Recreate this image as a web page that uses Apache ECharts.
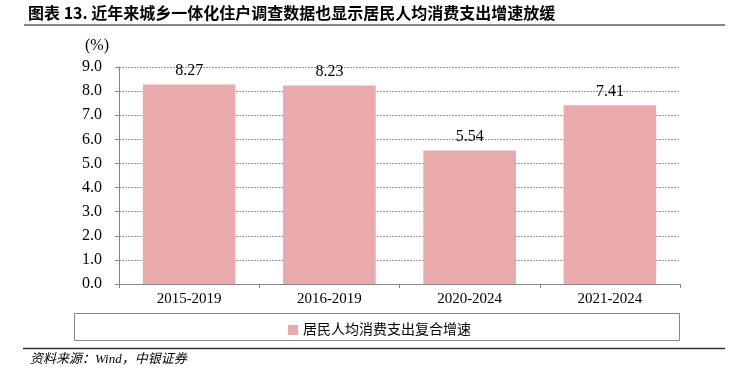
<!DOCTYPE html>
<html><head><meta charset="utf-8">
<script src="https://cdn.jsdelivr.net/npm/echarts@6/dist/echarts.min.js"></script>
<style>html,body{margin:0;padding:0;background:#fff}#c{width:735px;height:373px}</style>
</head><body><div id="c"></div>
<script>
var categories = ['2015-2019', '2016-2019', '2020-2024', '2021-2024'];
var values = [8.27, 8.23, 5.54, 7.41];
var seriesName = '居民人均消费支出复合增速';
var yTicks = {min: 0, max: 9, interval: 1};
var titleText = '图表 13. 近年来城乡一体化住户调查数据也显示居民人均消费支出增速放缓';
var sourceText = '资料来源：Wind，中银证券';

var serif = '"Liberation Serif","Times New Roman","Noto Sans CJK SC",serif';
var cjk = '"Liberation Serif","Noto Sans CJK SC",serif';
var chart = echarts.init(document.getElementById('c'), null, {renderer: 'canvas'});
chart.setOption({
  animation: false,
  backgroundColor: '#fff',
  grid: {left: 119, right: 55, top: 67, bottom: 89, containLabel: false},
  xAxis: {
    type: 'category', data: categories,
    axisLine: {lineStyle: {color: '#888', width: 1}},
    axisTick: {show: true, alignWithLabel: false, length: 4, lineStyle: {color: '#888'}},
    axisLabel: {color: '#000', fontFamily: serif, fontSize: 15, margin: 8}
  },
  yAxis: {
    type: 'value', min: yTicks.min, max: yTicks.max, interval: yTicks.interval,
    axisLine: {show: true, lineStyle: {color: '#888'}},
    axisTick: {show: true, length: 4, lineStyle: {color: '#888'}},
    axisLabel: {color: '#000', fontFamily: serif, fontSize: 16, margin: 17,
      formatter: function (v) { return v.toFixed(1); }},
    splitLine: {show: true, lineStyle: {color: '#999', type: [2, 1], width: 1}}
  },
  legend: {
    show: true, data: [seriesName], left: 283, top: 318,
    itemWidth: 10, itemHeight: 10, itemGap: 4, icon: 'rect',
    textStyle: {fontFamily: cjk, fontSize: 14, color: '#000'}
  },
  series: [{
    name: seriesName, type: 'bar', data: values, barWidth: '66%',
    itemStyle: {color: '#E8AAAA'},
    label: {show: true, position: 'top', distance: 6, color: '#000',
      fontFamily: serif, fontSize: 16,
      formatter: function (p) { return p.value.toFixed(2); }}
  }],
  graphic: [
    {type: 'text', left: 28, top: 5, style: {text: titleText, fill: '#000',
      font: 'bold 16px "Noto Sans CJK SC", sans-serif'}},
    {type: 'line', shape: {x1: 24, y1: 25, x2: 725, y2: 25}, style: {stroke: '#888', lineWidth: 2}},
    {type: 'text', left: 85, top: 38, style: {text: '(%)', fill: '#000',
      font: '16px "Liberation Serif", serif'}},
    {type: 'rect', shape: {x: 74.5, y: 313.5, width: 605, height: 27}, style: {fill: 'none', stroke: '#888', lineWidth: 1}},
    {type: 'line', shape: {x1: 23, y1: 348.5, x2: 725, y2: 348.5}, style: {stroke: '#333', lineWidth: 1.5}},
    {type: 'text', left: 30, top: 353, style: {text: sourceText, fill: '#000',
      font: 'italic 13px "Liberation Serif", "Noto Sans CJK SC", serif'}}
  ]
});
</script></body></html>
